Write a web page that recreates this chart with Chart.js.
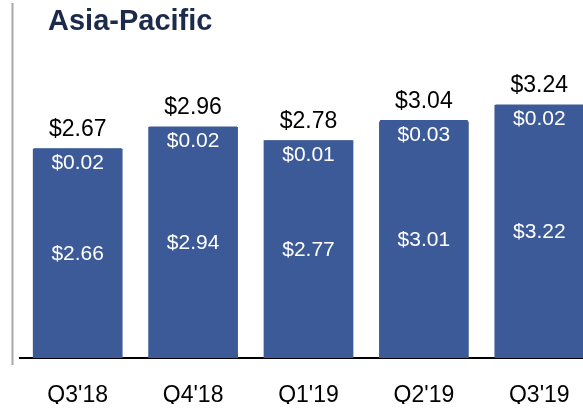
<!DOCTYPE html>
<html>
<head>
<meta charset="utf-8">
<script src="https://cdn.jsdelivr.net/npm/chart.js@4"></script>
<style>
html,body{margin:0;padding:0;background:#fff;overflow:hidden;width:583px;height:408px;}
#wrap{position:relative;width:600px;height:408px;}
</style>
</head>
<body>
<div id="wrap"><canvas id="c" width="600" height="408"></canvas></div>
<script>
const title = 'Asia-Pacific';
const categories = ["Q3'18", "Q4'18", "Q1'19", "Q2'19", "Q3'19"];
const baseValues = [2.66, 2.94, 2.77, 3.01, 3.22];
const topValues = [0.02, 0.02, 0.01, 0.03, 0.02];
const totals = [2.67, 2.96, 2.78, 3.04, 3.24];

const barColor = '#3c5a97';
const fmt = v => '$' + v.toFixed(2);

const labelPlugin = {
  id: 'labels',
  afterDraw(chart) {
    const ctx = chart.ctx;
    ctx.save();
    ctx.strokeStyle = '#a8a8a8';
    ctx.lineWidth = 2;
    ctx.beginPath();
    ctx.moveTo(12.5, 3);
    ctx.lineTo(12.5, 365);
    ctx.stroke();
    ctx.fillStyle = '#1c2b4c';
    ctx.font = 'bold 29px "Liberation Sans", Arial, sans-serif';
    ctx.textAlign = 'left';
    ctx.textBaseline = 'alphabetic';
    ctx.fillText(title, 48, 30);

    const m0 = chart.getDatasetMeta(0);
    const m1 = chart.getDatasetMeta(1);
    ctx.textAlign = 'center';
    for (let i = 0; i < categories.length; i++) {
      const b = m0.data[i];
      const t = m1.data[i];
      const x = b.x;
      const topY = t.y;
      const baseY = b.base;
      ctx.fillStyle = '#000';
      ctx.font = '23px "Liberation Sans", Arial, sans-serif';
      ctx.textBaseline = 'alphabetic';
      ctx.fillText(fmt(totals[i]), x, topY - 12);
      ctx.fillStyle = '#fff';
      ctx.font = '21px "Liberation Sans", Arial, sans-serif';
      ctx.textBaseline = 'middle';
      ctx.fillText(fmt(topValues[i]), x, topY + 15);
      ctx.fillText(fmt(baseValues[i]), x, (topY + baseY) / 2 + 1);
    }
    ctx.restore();
  }
};

new Chart(document.getElementById('c'), {
  type: 'bar',
  data: {
    labels: categories,
    datasets: [
      { data: baseValues, backgroundColor: barColor, borderWidth: 0, stack: 's', inflateAmount: 1 },
      { data: topValues, backgroundColor: barColor, borderWidth: 0, stack: 's' }
    ]
  },
  options: {
    responsive: false,
    animation: false,
    devicePixelRatio: 1,
    layout: { padding: { left: 20, right: 3, top: 45, bottom: 4 } },
    plugins: { legend: { display: false }, tooltip: { enabled: false }, title: { display: false } },
    datasets: { bar: { categoryPercentage: 1, barPercentage: 0.76 } },
    scales: {
      x: {
        stacked: true,
        grid: { display: false, drawTicks: false },
        border: { display: true, color: '#000', width: 2 },
        ticks: { color: '#000', padding: 24, font: { size: 23, family: '"Liberation Sans", Arial, sans-serif' } },
        afterFit: (axis) => { axis.height = 46; }
      },
      y: {
        stacked: true,
        display: false,
        min: 0,
        max: 4
      }
    }
  },
  plugins: [labelPlugin]
});
</script>
</body>
</html>
